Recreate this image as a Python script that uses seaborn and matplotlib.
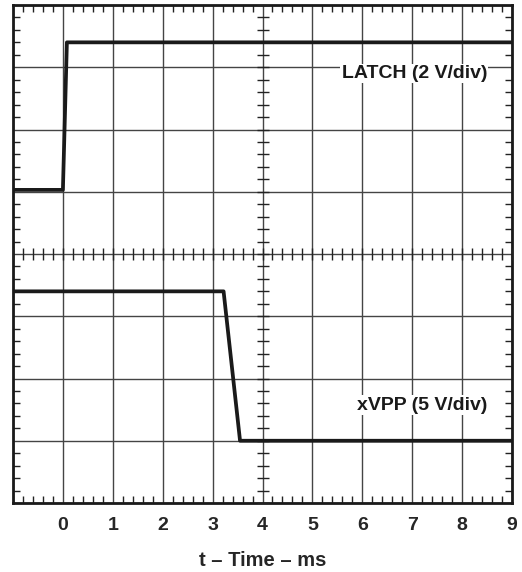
"""Oscilloscope-style timing chart: LATCH and xVPP vs time."""

import matplotlib
matplotlib.use("Agg")
import matplotlib.pyplot as plt
import numpy as np
import pandas as pd
import seaborn as sns

# time (ms) and level (divisions) for each trace
latch_t = [-1.0, 0.0, 0.08, 9.0]
latch_v = [5.03, 5.03, 7.4, 7.4]
xvpp_t = [-1.0, 3.22, 3.55, 9.0]
xvpp_v = [3.4, 3.4, 1.0, 1.0]

x_ticks = list(range(-1, 10))
x_labels = [""] + [str(i) for i in range(0, 10)]
trace_labels = ["LATCH (2 V/div)", "xVPP (5 V/div)"]

sns.set_style("white")
plt.rcParams["font.family"] = ["Liberation Sans", "DejaVu Sans"]
plt.rcParams["font.weight"] = "bold"

fig = plt.figure(figsize=(5.22, 5.72), dpi=100)
ax = fig.add_axes([13 / 522, 1 - 503 / 572, 499 / 522, 498 / 572])

df = pd.concat([
    pd.DataFrame({"t": latch_t, "v": latch_v, "trace": "LATCH"}),
    pd.DataFrame({"t": xvpp_t, "v": xvpp_v, "trace": "xVPP"}),
])
sns.lineplot(data=df, x="t", y="v", units="trace", estimator=None, sort=False,
             color="#1a1a1a", linewidth=2.7, ax=ax, legend=False, zorder=5)

ax.set_xlim(-1, 9)
ax.set_ylim(0, 8)
ax.set_xticks(x_ticks)
ax.set_xticklabels(x_labels, fontsize=14, fontweight="bold")
ax.set_yticks(range(0, 9))
ax.set_yticklabels([])
ax.set_xticks(np.arange(-1, 9.01, 0.2), minor=True)
ax.set_yticks(np.arange(0, 8.01, 0.2), minor=True)
ax.tick_params(which="major", length=0, pad=10)
ax.tick_params(which="minor", direction="in", length=5, width=1, color="#222222",
               top=True, bottom=True, left=True, right=True)
ax.grid(True, which="major", color="#444444", linewidth=1.0)

# cross ticks on the centre lines
cx = np.arange(-1, 9.01, 0.2)
cy = np.arange(0, 8.01, 0.2)
ax.plot(cx, np.full_like(cx, 4.0), ls="none", marker="|", ms=9, mew=1,
        color="#222222", zorder=3)
ax.plot(np.full_like(cy, 4.0), cy, ls="none", marker="_", ms=9, mew=1,
        color="#222222", zorder=3)

for s in ax.spines.values():
    s.set_visible(True)
    s.set_color("#1a1a1a")
    s.set_linewidth(2)

ax.text(8.5, 6.9, trace_labels[0], ha="right", va="center", fontsize=14,
        fontweight="bold", color="#1a1a1a",
        bbox=dict(facecolor="white", edgecolor="none", pad=1))
ax.text(8.5, 1.57, trace_labels[1], ha="right", va="center", fontsize=14,
        fontweight="bold", color="#1a1a1a",
        bbox=dict(facecolor="white", edgecolor="none", pad=1))

ax.set_xlabel("t – Time – ms", fontsize=14.5, fontweight="bold", labelpad=12)
ax.set_ylabel("")

fig.savefig("out.png", dpi=100)
